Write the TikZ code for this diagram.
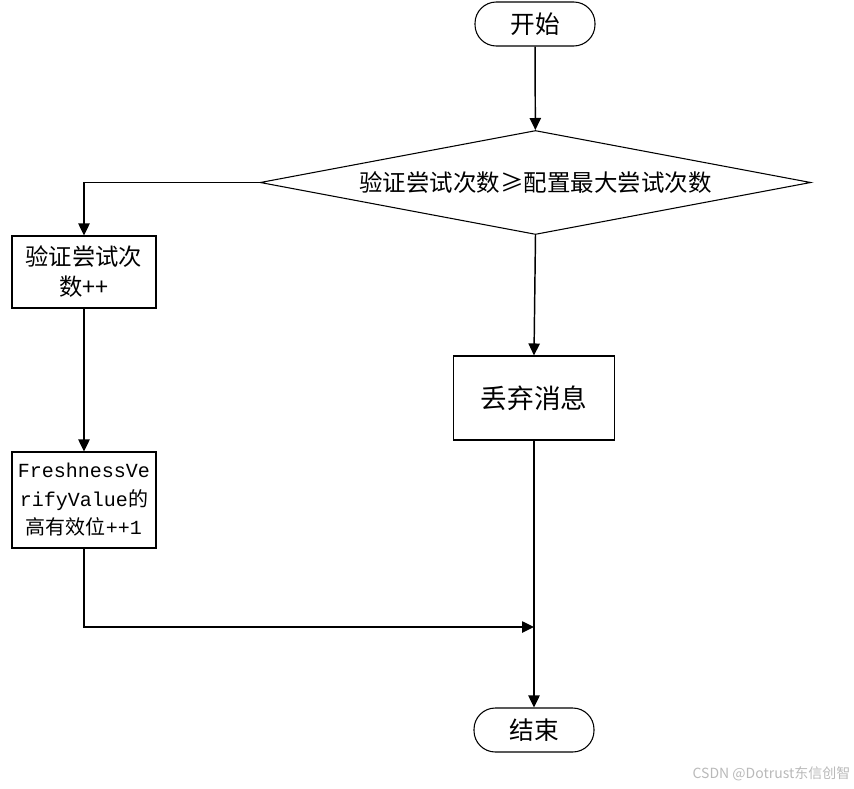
\documentclass[tikz,border=0pt]{standalone}
\usepackage{fontspec}
\newfontfamily\cjk{Noto Sans CJK SC}
\setmonofont{Liberation Mono}
\usetikzlibrary{shapes.geometric,arrows.meta}

\begin{document}
\begin{tikzpicture}[x=0.75pt,y=-0.75pt,line width=1.1pt,>={Triangle[length=9pt,width=8.5pt]},
	every node/.style={inner sep=0pt},
	term/.style={draw,rectangle,rounded corners=16pt,minimum width=90pt,minimum height=33pt,line width=0.8pt,font=\cjk\fontsize{18.5}{22}\selectfont},
	proc/.style={draw,rectangle,line width=0.8pt,align=center},
	decide/.style={draw,diamond,aspect=5.3,minimum width=413pt,minimum height=78pt,line width=0.8pt,font=\cjk\fontsize{17.6}{20}\selectfont}]
	\useasboundingbox (0,0) rectangle (854,789);
	\node[term] (start) at (535,24) {开始};
	\node[decide] (check) at (535.5,182.5) {验证尝试次数≥配置最大尝试次数};
	\node[proc,minimum width=108pt,minimum height=54pt,font=\cjk\fontsize{17.5}{22.5}\selectfont] (incr) at (84,272) {验证尝试次\\数++};
	\node[proc,minimum width=120.75pt,minimum height=63pt,font=\cjk\fontsize{20}{24}\selectfont] (drop) at (534,398) {丢弃消息};
	\node[proc,minimum width=108pt,minimum height=72pt,font=\cjk\fontsize{15}{21.4}\selectfont] (bump) at (84,500)
		{{\ttfamily FreshnessVe}\\{\ttfamily rifyValue}的\\高有效位{\ttfamily ++1}};
	\node[term] (finish) at (534,730) {结束};
	\coordinate (join) at (534,627);
	% connectors
	\draw[->] (start) -- (check);
	\draw[->] (check.west) -| (incr.north);
	\draw[->] (incr) -- (bump);
	\draw[->] (check.south) -- (drop.north);
	\draw[->] (drop) -- (finish);
	\draw[->] (bump.south) |- (join);
	\node[anchor=east,text=gray!55,font=\cjk\fontsize{10.5}{12}\selectfont] (mark) at (851,774) {CSDN @Dotrust东信创智};
\end{tikzpicture}
\end{document}
